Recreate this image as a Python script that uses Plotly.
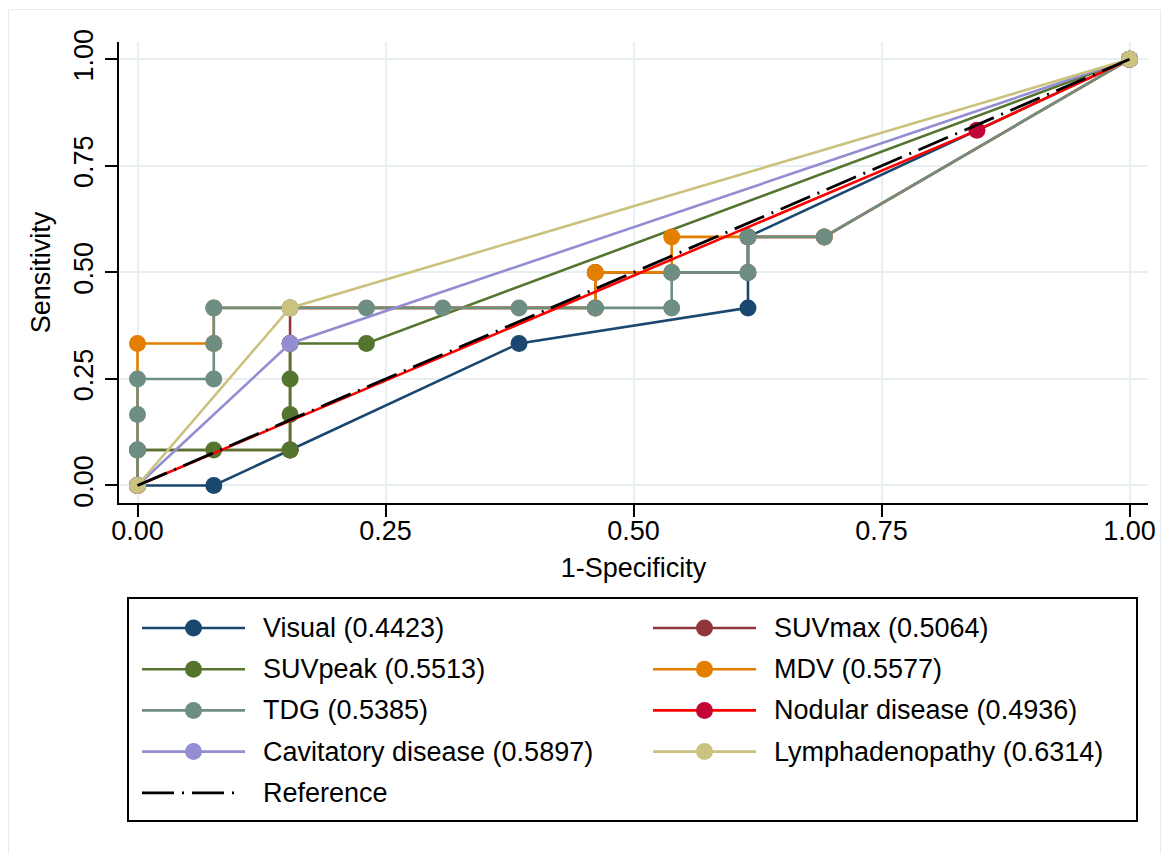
import plotly.graph_objects as go

# ---------------- data ----------------
series_names = ["Visual", "SUVmax", "SUVpeak", "MDV", "TDG",
                "Nodular disease", "Cavitatory disease", "Lymphadenopathy"]
series_auc = [0.4423, 0.5064, 0.5513, 0.5577, 0.5385, 0.4936, 0.5897, 0.6314]

visual_x = [0, 0.0769, 0.1538, 0.3846, 0.6154, 0.6154, 1]
visual_y = [0, 0, 0.0833, 0.3333, 0.4167, 0.5833, 1]

suvmax_x = [0, 0, 0.1538, 0.1538, 0.1538, 0.4615, 0.4615, 0.6154, 0.6154, 0.6923, 1]
suvmax_y = [0, 0.0833, 0.0833, 0.3333, 0.4167, 0.4167, 0.5, 0.5, 0.5833, 0.5833, 1]

suvpeak_x = [0, 0, 0.0769, 0.1538, 0.1538, 0.1538, 0.1538, 0.2308, 1]
suvpeak_y = [0, 0.0833, 0.0833, 0.0833, 0.1667, 0.25, 0.3333, 0.3333, 1]

mdv_x = [0, 0, 0.0769, 0.0769, 0.4615, 0.4615, 0.5385, 0.5385, 0.6154, 0.6923, 1]
mdv_y = [0, 0.3333, 0.3333, 0.4167, 0.4167, 0.5, 0.5, 0.5833, 0.5833, 0.5833, 1]

tdg_x = [0, 0, 0, 0, 0.0769, 0.0769, 0.0769, 0.1538, 0.2308, 0.3077, 0.3846,
         0.4615, 0.5385, 0.5385, 0.6154, 0.6154, 0.6923, 1]
tdg_y = [0, 0.0833, 0.1667, 0.25, 0.25, 0.3333, 0.4167, 0.4167, 0.4167, 0.4167, 0.4167,
         0.4167, 0.4167, 0.5, 0.5, 0.5833, 0.5833, 1]

nodular_x = [0, 0.8462, 1]
nodular_y = [0, 0.8333, 1]

cavitatory_x = [0, 0.1538, 1]
cavitatory_y = [0, 0.3333, 1]

lymph_x = [0, 0.1538, 1]
lymph_y = [0, 0.4167, 1]

reference_x = [0, 1]
reference_y = [0, 1]

tick_vals = [0, 0.25, 0.5, 0.75, 1]
tick_text = ["0.00", "0.25", "0.50", "0.75", "1.00"]

# ---------------- styles ----------------
line_colors = ["#1a476f", "#90353b", "#55752f", "#e37e00", "#6e8e84",
               "#ff0000", "#938dd2", "#cac27e"]
marker_colors = ["#1a476f", "#90353b", "#55752f", "#e37e00", "#6e8e84",
                 "#c10534", "#938dd2", "#cac27e"]
xs = [visual_x, suvmax_x, suvpeak_x, mdv_x, tdg_x, nodular_x, cavitatory_x, lymph_x]
ys = [visual_y, suvmax_y, suvpeak_y, mdv_y, tdg_y, nodular_y, cavitatory_y, lymph_y]

FONT = "Liberation Sans, Arial, Helvetica, sans-serif"
FS = 27
W, H = 1169, 854
OFF = 8  # page offset of the figure inside the browser window
L, R, T, B = 119 - OFF, 1148 - OFF, 42 - OFF, 503 - OFF
MS = 17
LW = 2.6
REF_DASH = "32px,8px,2px,8px"

fig = go.Figure()
for name, a, x, y, lc, mc in zip(series_names, series_auc, xs, ys, line_colors, marker_colors):
    fig.add_trace(go.Scatter(
        x=x, y=y, mode="lines+markers", name=f"{name} ({a:.4f})",
        line=dict(color=lc, width=LW),
        marker=dict(color=mc, size=MS, line=dict(width=0)),
        showlegend=False, cliponaxis=False))

fig.add_trace(go.Scatter(
    x=reference_x, y=reference_y, mode="lines", name="Reference",
    line=dict(color="black", width=2.8, dash=REF_DASH),
    showlegend=False, cliponaxis=False))


# ---------------- manual legend (Stata style) ----------------
def px_x(p):
    return (p - OFF - L) / (R - L)


def px_y(p):
    return (B - (p - OFF)) / (B - T)


shapes = []
annotations = []
# outer graph region border
shapes.append(dict(type="rect", xref="paper", yref="paper",
                   x0=px_x(8.5), x1=px_x(1160.5), y0=px_y(880), y1=px_y(9.5),
                   line=dict(color="#e4ecef", width=1), fillcolor="rgba(0,0,0,0)",
                   layer="below"))
# legend box
shapes.append(dict(type="rect", xref="paper", yref="paper",
                   x0=px_x(128), x1=px_x(1137), y0=px_y(821), y1=px_y(598),
                   line=dict(color="black", width=2), fillcolor="rgba(0,0,0,0)"))

legend_labels = [f"{n} ({a:.4f})" for n, a in zip(series_names, series_auc)] + ["Reference"]
row0, row_gap = 628, 41.2
col_line = [(142, 245), (653, 756)]
col_text = [261, 772]
for i, lab in enumerate(legend_labels):
    r, c = divmod(i, 2)
    cy = row0 + r * row_gap
    x0, x1 = col_line[c]
    if i < len(series_names):
        shapes.append(dict(type="line", xref="paper", yref="paper",
                           x0=px_x(x0), x1=px_x(x1), y0=px_y(cy), y1=px_y(cy),
                           line=dict(color=line_colors[i], width=LW)))
        cx = (x0 + x1) / 2
        shapes.append(dict(type="circle", xref="paper", yref="paper",
                           x0=px_x(cx - MS / 2), x1=px_x(cx + MS / 2),
                           y0=px_y(cy + MS / 2), y1=px_y(cy - MS / 2),
                           fillcolor=marker_colors[i], line=dict(width=0)))
    else:
        shapes.append(dict(type="line", xref="paper", yref="paper",
                           x0=px_x(x0), x1=px_x(x0 + 97), y0=px_y(cy), y1=px_y(cy),
                           line=dict(color="black", width=2.8, dash=REF_DASH)))
    annotations.append(dict(xref="paper", yref="paper", x=px_x(col_text[c]), y=px_y(cy),
                            text=lab, showarrow=False, xanchor="left", yanchor="middle",
                            font=dict(family=FONT, size=FS, color="black")))

axis_common = dict(
    showline=True, linecolor="black", linewidth=2,
    ticks="outside", ticklen=12, tickwidth=2, tickcolor="black",
    tickvals=tick_vals, ticktext=tick_text,
    tickfont=dict(family=FONT, size=FS, color="black"),
    showgrid=True, gridcolor="#e7eff2", gridwidth=2,
    zeroline=False, mirror=False,
)

fig.update_layout(
    width=W, height=H,
    margin=dict(l=L, r=W - R, t=T, b=H - B, pad=0),
    paper_bgcolor="white", plot_bgcolor="white",
    font=dict(family=FONT, size=FS, color="black"),
    xaxis=dict(range=[-0.01865, 1.01865], ticklabelstandoff=-9,
               title=dict(text="1-Specificity", font=dict(family=FONT, size=FS), standoff=13),
               **axis_common),
    yaxis=dict(range=[-0.0411, 1.0406], tickangle=-90, ticklabelstandoff=1,
               title=dict(text="Sensitivity", font=dict(family=FONT, size=FS), standoff=11),
               **axis_common),
    shapes=shapes,
    annotations=annotations,
    showlegend=False,
)

fig.write_html("out.html")
